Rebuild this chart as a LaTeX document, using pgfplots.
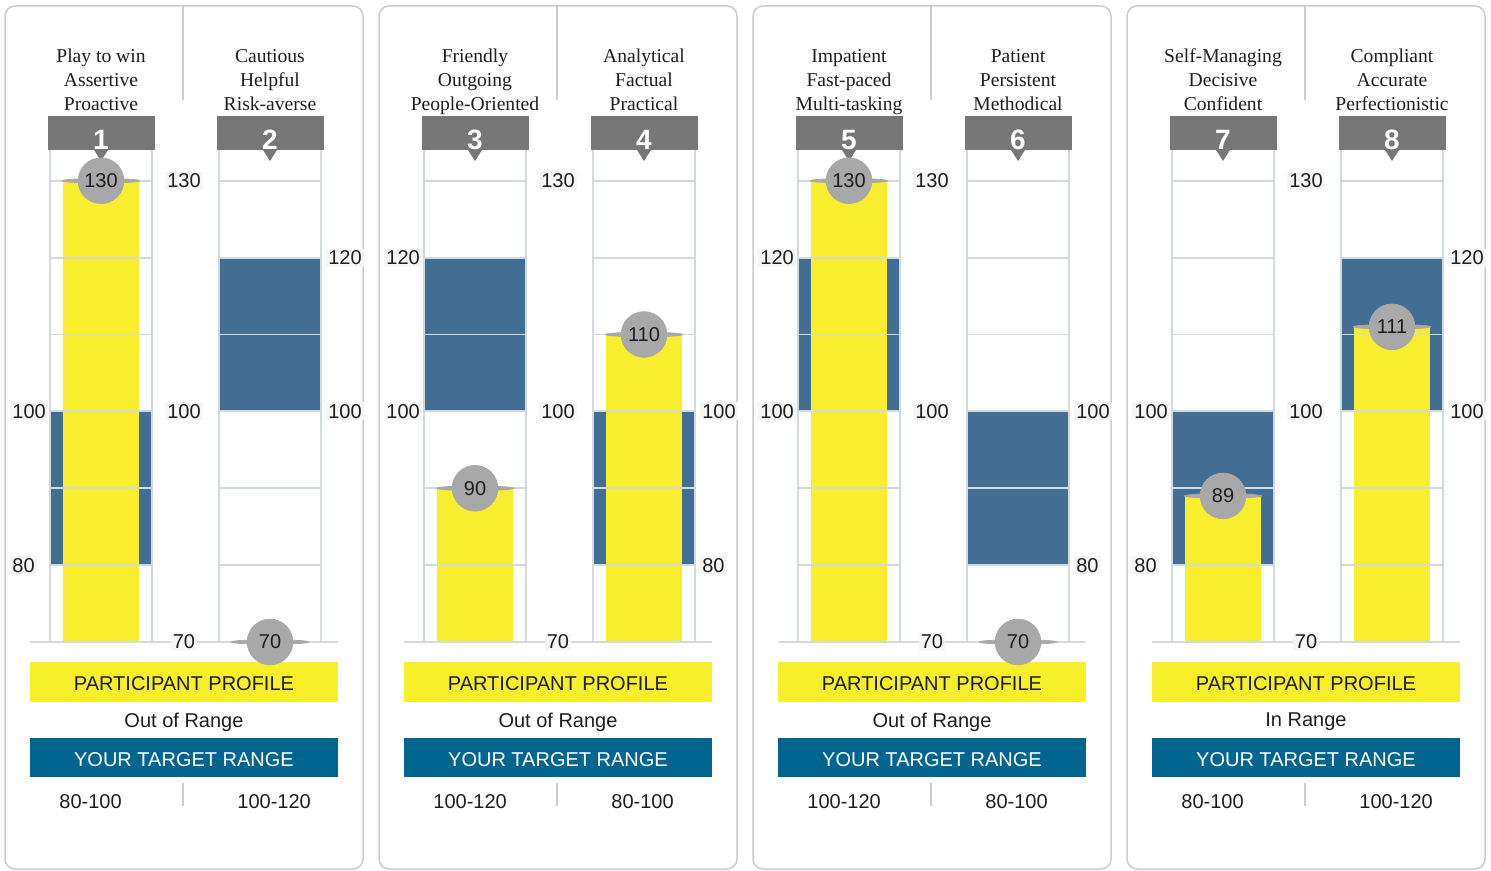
\documentclass[border=0pt]{standalone}
\usepackage{pgfplots}
\pgfplotsset{compat=1.18}
\usepackage{fontspec}
\setmainfont{Liberation Serif}
\newfontfamily\arial{Liberation Sans}

\definecolor{barYellow}{HTML}{F8EE2E}
\definecolor{boxYellow}{HTML}{F7EF2A}
\definecolor{bandBlue}{HTML}{416E92}
\definecolor{targetBlue}{HTML}{00668F}
\definecolor{hdrGray}{HTML}{777777}
\definecolor{bubGray}{HTML}{A8A8A8}
\definecolor{gridGray}{HTML}{D3DADD}
\definecolor{frameGray}{HTML}{CCCCCC}
\definecolor{txt}{HTML}{1E1E1E}
\definecolor{lblBg}{HTML}{F6F6F6}

\newcommand\sansten{\arial\fontsize{10}{12}\selectfont}
\newcommand\hdrfont{\fontsize{9.8}{12}\selectfont}

\pgfplotsset{
  panel/.style={
    anchor=south west, scale only axis,
    width=154pt, height=246pt,
    xmin=-0.42012, xmax=1.40237, ymin=70, ymax=134,
    hide axis, clip=false,
  },
  band/.style={fill=bandBlue, draw=none},
  bar/.style={fill=barYellow, draw=none},
  wing/.style={only marks, color=bubGray, mark=*, mark size=11.25pt,
    mark options={fill=bubGray, draw=bubGray, xscale=1.72, yscale=0.1}},
  bubble/.style={only marks, color=bubGray, mark=*, mark size=11.4pt,
    mark options={fill=bubGray, draw=bubGray},
    nodes near coords, nodes near coords align={anchor=center},
    every node near coord/.append style={font=\sansten, text=txt},
    /pgf/number format/assume math mode=true},
}

% frame and header separator of one panel
\newcommand\panelframe{%
  \draw[frameGray, line width=0.75pt, rounded corners=5pt]
    ([yshift=72pt]axis cs:-0.568,134) rectangle ([yshift=-113.5pt]axis cs:1.5503,70);
  \draw[frameGray, line width=0.75pt]
    ([yshift=25pt]axis cs:0.485,134) -- ([yshift=72pt]axis cs:0.485,134);
}
% grid lines, column rails and baseline, drawn over the bars
\newcommand\columngrid{%
  \pgfplotsinvokeforeach{80,90,100,110,120,130}{%
    \draw[gridGray, line width=0.9pt] (axis cs:-0.3,##1) -- (axis cs:0.3,##1);
    \draw[gridGray, line width=0.9pt] (axis cs:0.7,##1) -- (axis cs:1.3,##1);
  }%
  \pgfplotsinvokeforeach{-0.3,0.3,0.7,1.3}{%
    \draw[gridGray, line width=1pt] (axis cs:##1,70) -- (axis cs:##1,134);
  }%
  \draw[gridGray, line width=1pt] (axis cs:-0.42012,70) -- (axis cs:1.40237,70);
}
% numbered header with three descriptive lines
\newcommand\header[5]{%
  \fill[hdrGray] ([xshift=-26.75pt]axis cs:#1,134) rectangle ([xshift=26.75pt,yshift=17pt]axis cs:#1,134);
  \fill[hdrGray] ([xshift=-3.5pt]axis cs:#1,134) -- ([xshift=3.5pt]axis cs:#1,134)
    -- ([yshift=-5.5pt]axis cs:#1,134) -- cycle;
  \node[text=white, font=\arial\bfseries\fontsize{14}{14}\selectfont] at ([yshift=5pt]axis cs:#1,134) {#2};
  \node[anchor=base, text=txt, font=\hdrfont, inner sep=0pt] at ([yshift=43.5pt]axis cs:#1,134) {#3};
  \node[anchor=base, text=txt, font=\hdrfont, inner sep=0pt] at ([yshift=31.5pt]axis cs:#1,134) {#4};
  \node[anchor=base, text=txt, font=\hdrfont, inner sep=0pt] at ([yshift=19.5pt]axis cs:#1,134) {#5};
}
\tikzset{ticklbl/.style={font=\sansten, text=txt, fill=lblBg, inner sep=1pt}}
\newcommand\lefttick[1]{\node[ticklbl, anchor=west] at (axis cs:-0.5385,#1) {#1};}
\newcommand\midtick[1]{\node[ticklbl] at (axis cs:0.491,#1) {#1};}
\newcommand\righttick[1]{\node[ticklbl, anchor=west] at (axis cs:1.331,#1) {#1};}
% legend boxes and target ranges under a panel
\newcommand\bottomboxes[3]{%
  \fill[boxYellow] ([yshift=-10pt]axis cs:-0.42012,70) rectangle ([yshift=-30pt]axis cs:1.40237,70);
  \node[font=\sansten, text=txt] at ([yshift=-21pt]axis cs:0.491,70) {PARTICIPANT PROFILE};
  \node[font=\sansten, text=txt] at ([yshift=-40pt]axis cs:0.491,70) {#1};
  \fill[targetBlue] ([yshift=-48pt]axis cs:-0.42012,70) rectangle ([yshift=-67.5pt]axis cs:1.40237,70);
  \node[font=\sansten, text=white] at ([yshift=-59pt]axis cs:0.491,70) {YOUR TARGET RANGE};
  \draw[frameGray, line width=0.75pt] ([yshift=-70.5pt]axis cs:0.485,70) -- ([yshift=-82pt]axis cs:0.485,70);
  \node[font=\sansten, text=txt, anchor=west, inner sep=0pt] at ([yshift=-79.7pt]axis cs:-0.2485,70) {#2};
  \node[font=\sansten, text=txt, anchor=west, inner sep=0pt] at ([yshift=-79.7pt]axis cs:0.805,70) {#3};
}

\begin{document}
\begin{tikzpicture}
\path (0,0) rectangle (745.5pt,435.5pt);

% ---- Panel 1: traits 1 and 2
\begin{axis}[panel, at={(15pt,114.5pt)}]
  \panelframe
  \addplot[band] coordinates {(-0.3,80) (0.3,80) (0.3,100) (-0.3,100)};
  \addplot[band] coordinates {(0.7,100) (1.3,100) (1.3,120) (0.7,120)};
  \addplot[bar] coordinates {(-0.225,70) (0.225,70) (0.225,130) (-0.225,130)};
  \addplot[bar] coordinates {(0.775,70) (1.225,70) (1.225,70) (0.775,70)};
  \columngrid
  \header{0}{1}{Play to win}{Assertive}{Proactive}
  \header{1}{2}{Cautious}{Helpful}{Risk-averse}
  \lefttick{100}\lefttick{80}
  \midtick{130}\midtick{100}\midtick{70}
  \righttick{120}\righttick{100}
  \addplot[wing] coordinates {(0,130) (1,70)};
  \addplot[bubble] coordinates {(0,130) (1,70)};
  \bottomboxes{Out of Range}{80-100}{100-120}
\end{axis}

% ---- Panel 2: traits 3 and 4
\begin{axis}[panel, at={(202pt,114.5pt)}]
  \panelframe
  \addplot[band] coordinates {(-0.3,100) (0.3,100) (0.3,120) (-0.3,120)};
  \addplot[band] coordinates {(0.7,80) (1.3,80) (1.3,100) (0.7,100)};
  \addplot[bar] coordinates {(-0.225,70) (0.225,70) (0.225,90) (-0.225,90)};
  \addplot[bar] coordinates {(0.775,70) (1.225,70) (1.225,110) (0.775,110)};
  \columngrid
  \header{0}{3}{Friendly}{Outgoing}{People-Oriented}
  \header{1}{4}{Analytical}{Factual}{Practical}
  \lefttick{120}\lefttick{100}
  \midtick{130}\midtick{100}\midtick{70}
  \righttick{100}\righttick{80}
  \addplot[wing] coordinates {(0,90) (1,110)};
  \addplot[bubble] coordinates {(0,90) (1,110)};
  \bottomboxes{Out of Range}{100-120}{80-100}
\end{axis}

% ---- Panel 3: traits 5 and 6
\begin{axis}[panel, at={(389pt,114.5pt)}]
  \panelframe
  \addplot[band] coordinates {(-0.3,100) (0.3,100) (0.3,120) (-0.3,120)};
  \addplot[band] coordinates {(0.7,80) (1.3,80) (1.3,100) (0.7,100)};
  \addplot[bar] coordinates {(-0.225,70) (0.225,70) (0.225,130) (-0.225,130)};
  \addplot[bar] coordinates {(0.775,70) (1.225,70) (1.225,70) (0.775,70)};
  \columngrid
  \header{0}{5}{Impatient}{Fast-paced}{Multi-tasking}
  \header{1}{6}{Patient}{Persistent}{Methodical}
  \lefttick{120}\lefttick{100}
  \midtick{130}\midtick{100}\midtick{70}
  \righttick{100}\righttick{80}
  \addplot[wing] coordinates {(0,130) (1,70)};
  \addplot[bubble] coordinates {(0,130) (1,70)};
  \bottomboxes{Out of Range}{100-120}{80-100}
\end{axis}

% ---- Panel 4: traits 7 and 8
\begin{axis}[panel, at={(576pt,114.5pt)}]
  \panelframe
  \addplot[band] coordinates {(-0.3,80) (0.3,80) (0.3,100) (-0.3,100)};
  \addplot[band] coordinates {(0.7,100) (1.3,100) (1.3,120) (0.7,120)};
  \addplot[bar] coordinates {(-0.225,70) (0.225,70) (0.225,89) (-0.225,89)};
  \addplot[bar] coordinates {(0.775,70) (1.225,70) (1.225,111) (0.775,111)};
  \columngrid
  \header{0}{7}{Self-Managing}{Decisive}{Confident}
  \header{1}{8}{Compliant}{Accurate}{Perfectionistic}
  \lefttick{100}\lefttick{80}
  \midtick{130}\midtick{100}\midtick{70}
  \righttick{120}\righttick{100}
  \addplot[wing] coordinates {(0,89) (1,111)};
  \addplot[bubble] coordinates {(0,89) (1,111)};
  \bottomboxes{In Range}{80-100}{100-120}
\end{axis}
\end{tikzpicture}
\end{document}
